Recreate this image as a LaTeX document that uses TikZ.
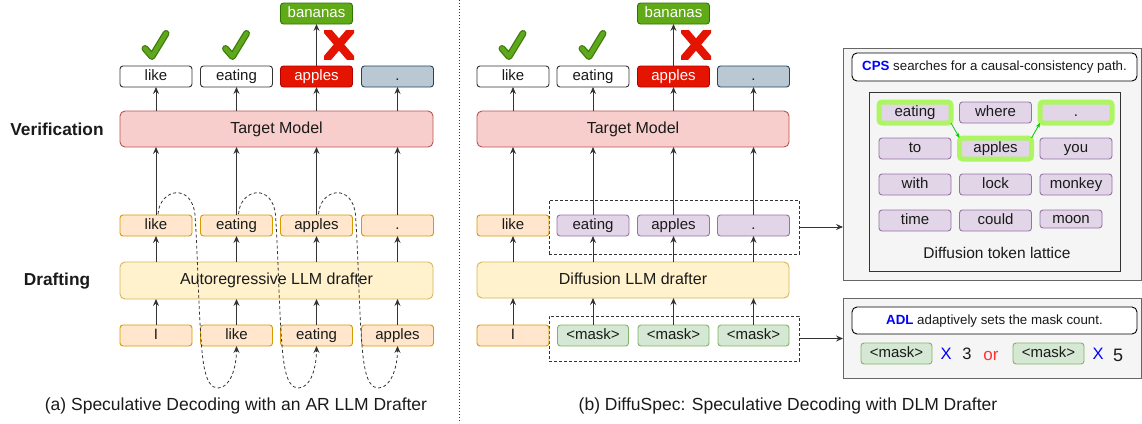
\documentclass[tikz,border=0pt]{standalone}
\usepackage{fontspec}
\setmainfont{Liberation Sans}
\usetikzlibrary{arrows.meta,calc}
\definecolor{txt}{HTML}{1A1A1A}
\definecolor{linec}{HTML}{333333}
\definecolor{boxgray}{HTML}{333333}
\definecolor{redF}{HTML}{E51400}\definecolor{redD}{HTML}{B20000}
\definecolor{dotF}{HTML}{BAC8D3}\definecolor{dotD}{HTML}{23445D}
\definecolor{grnF}{HTML}{60A917}\definecolor{grnD}{HTML}{2D7600}
\definecolor{tgtF}{HTML}{F8CECC}\definecolor{tgtD}{HTML}{B85450}
\definecolor{orF}{HTML}{FFE6CC}\definecolor{orD}{HTML}{D79B00}
\definecolor{drF}{HTML}{FFF2CC}\definecolor{drD}{HTML}{D6B656}
\definecolor{puF}{HTML}{E1D5E7}\definecolor{puD}{HTML}{9673A6}
\definecolor{mkF}{HTML}{D5E8D4}\definecolor{mkD}{HTML}{82B366}
\definecolor{panF}{HTML}{F5F5F5}\definecolor{panD}{HTML}{666666}
\definecolor{hlg}{HTML}{ADF562}
\definecolor{garrc}{HTML}{00CC00}
\definecolor{chkF}{HTML}{5FA81C}\definecolor{chkD}{HTML}{3E7A0C}
\definecolor{orred}{HTML}{FF3333}
\begin{document}
\begin{tikzpicture}[x=1pt,y=-1pt,
  every node/.style={inner sep=0pt, outer sep=0pt, text=txt},
  tok/.style={draw=boxgray, fill=white, rounded corners=3pt, line width=0.9pt,
    minimum width=72pt, minimum height=21pt, text height=11pt, text depth=3pt,
    font=\fontsize{15}{15}\selectfont},
  tokred/.style={tok, fill=redF, draw=redD, text=white},
  tokdot/.style={tok, fill=dotF, draw=dotD},
  tokgrn/.style={tok, fill=grnF, draw=grnD, text=white},
  tokor/.style={tok, fill=orF, draw=orD},
  tokpu/.style={tok, fill=puF, draw=puD},
  tokmk/.style={tok, fill=mkF, draw=mkD, minimum width=71pt},
  hl/.style={tokpu, draw=hlg, line width=5pt},
  bigbox/.style={rounded corners=5pt, line width=0.9pt, minimum height=36pt,
    text height=11.5pt, text depth=3.5pt, font=\fontsize{16}{16}\selectfont},
  tgt/.style={bigbox, fill=tgtF, draw=tgtD},
  drafter/.style={bigbox, fill=drF, draw=drD},
  dbox/.style={draw=linec, dash pattern=on 3pt off 2pt, line width=0.8pt},
  arr/.style={-{Stealth[length=7pt,width=6pt,inset=2.5pt]}, line width=0.9pt, draw=linec},
  loopline/.style={-{Stealth[length=7pt,width=6pt,inset=2.5pt]}, line width=0.8pt, draw=linec, dash pattern=on 3pt off 2.5pt},
  garr/.style={-{Stealth[length=5pt,width=4pt]}, line width=0.8pt, draw=garrc},
  panel/.style={fill=panF, draw=panD, line width=1pt},
  infobox/.style={draw=black, fill=white, rounded corners=5pt, line width=0.9pt,
    minimum width=285pt, font=\fontsize{13.3}{13.3}\selectfont, text height=10pt, text depth=3pt},
  lbl/.style={font=\fontsize{17.3}{17.3}\selectfont\bfseries},
  captxt/.style={font=\fontsize{17.5}{17.5}\selectfont},
  xline/.style={draw=redF, line width=8pt},
  chkout/.style={draw=chkD, line width=7pt, line cap=round, line join=round},
  chkin/.style={draw=chkF, line width=4.5pt, line cap=round, line join=round},
]
\useasboundingbox (0,0) rectangle (1142,423);

% divider
\draw[linec, line width=1pt, dash pattern=on 1pt off 2pt] (459,0) -- (459,423);

% ================= left panel =================
\node[lbl] (verif) at (57,129) {Verification};
\node[lbl] (draft) at (57,281) {Drafting};

\node[tok]    (tA1) at (156,76.5)   {like};
\node[tok]    (tA2) at (236.5,76.5) {eating};
\node[tokred] (tA3) at (316.5,76.5) {apples};
\node[tokdot] (tA4) at (397.5,76.5) {.};
\node[tokgrn] (bA)  at (316.5,13.5) {bananas};
\node[tgt, minimum width=313pt] (tgtA) at (276.5,129) {Target Model};

\node[tokor] (dA1) at (156,225.5)   {like};
\node[tokor] (dA2) at (236.5,225.5) {eating};
\node[tokor] (dA3) at (316.5,225.5) {apples};
\node[tokor] (dA4) at (397.5,225.5) {.};
\node[drafter, minimum width=313pt, minimum height=37pt] (arA) at (276.5,280.5) {Autoregressive LLM drafter};

\node[tokor] (iA1) at (156,335.5)   {I};
\node[tokor] (iA2) at (236.5,335.5) {like};
\node[tokor] (iA3) at (316.5,335.5) {eating};
\node[tokor] (iA4) at (397.5,335.5) {apples};

\foreach \i in {1,2,3,4}{
  \draw[arr] (tA\i |- tgtA.north) -- (tA\i.south);
  \draw[arr] (dA\i.north) -- (dA\i |- tgtA.south);
  \draw[arr] (dA\i |- arA.north) -- (dA\i.south);
  \draw[arr] (iA\i.north) -- (iA\i |- arA.south);
}
\draw[arr] (tA3.north) -- (bA.south);

% dashed autoregressive loops
\foreach \a/\b in {dA1/iA2, dA2/iA3, dA3/iA4}{
  \draw[loopline] ($(\a.north)+(2,-1)$)
     .. controls ($(\a.north)+(4,-27)$) and ($(\a.north)+(36,-32)$) .. ($(\a.north)+(39,0)$)
     .. controls ($(\a.north)+(42,45)$) and ($(\a.north)+(43,115)$) .. ($(\a.north)+(47,145)$)
     .. controls ($(\a.north)+(50,168)$) and ($(\a.north)+(56,173)$) .. ($(\a.north)+(62,173)$)
     .. controls ($(\a.north)+(74,173)$) and ($(\b.south)+(0,22)$) .. (\b.south);
}

% checks and crosses
\foreach \c in {156,236.5,513,593}{
  \draw[chkout] ({\c-11},48.5) -- ({\c-4},56.5) -- ({\c+10},33.5);
  \draw[chkin]  ({\c-11},48.5) -- ({\c-4},56.5) -- ({\c+10},33.5);
}
\foreach \c in {339,696}{
  \begin{scope}
    \clip ({\c-15},30) rectangle ({\c+15},59);
    \draw[xline] ({\c-15},27) -- ({\c+15},62);
    \draw[xline] ({\c+15},27) -- ({\c-15},62);
  \end{scope}
}

\node[captxt] (capA) at (236,406) {(a) Speculative Decoding with an AR LLM Drafter};

% ================= right panel =================
\node[dbox, minimum width=250pt, minimum height=54pt] (boxB1) at (674,227) {};
\node[dbox, minimum width=250pt, minimum height=45pt] (boxB2) at (674,338.5) {};

\node[tok]    (tB1) at (513,76.5)   {like};
\node[tok]    (tB2) at (593,76.5)   {eating};
\node[tokred] (tB3) at (673.5,76.5) {apples};
\node[tokdot] (tB4) at (753.5,76.5) {.};
\node[tokgrn] (bB)  at (673.5,13.5) {bananas};
\node[tgt, minimum width=312pt] (tgtB) at (633,129) {Target Model};

\node[tokor] (dB1) at (513,225.5)   {like};
\node[tokpu] (dB2) at (593,225.5)   {eating};
\node[tokpu] (dB3) at (673.5,225.5) {apples};
\node[tokpu] (dB4) at (753.5,225.5) {.};
\node[drafter, minimum width=312pt] (dfB) at (633,280) {Diffusion LLM drafter};

\node[tokor] (iB1) at (513,335.5)   {I};
\node[tokmk] (iB2) at (593,335.5)   {<mask>};
\node[tokmk] (iB3) at (673.5,335.5) {<mask>};
\node[tokmk] (iB4) at (753.5,335.5) {<mask>};

\foreach \i in {1,2,3,4}{
  \draw[arr] (tB\i |- tgtB.north) -- (tB\i.south);
  \draw[arr] (dB\i.north) -- (dB\i |- tgtB.south);
  \draw[arr] (dB\i |- dfB.north) -- (dB\i.south);
  \draw[arr] (iB\i.north) -- (iB\i |- dfB.south);
}
\draw[arr] (tB3.north) -- (bB.south);

\node[captxt] (capB) at (788,406) {(b) DiffuSpec: Speculative Decoding with DLM Drafter};

% ================= side panels =================
\node[panel, minimum width=298pt, minimum height=232pt] (pan1) at (992,164) {};
\node[panel, minimum width=298pt, minimum height=80pt]  (pan2) at (992,338) {};
\draw[arr] (boxB1.east) -- (boxB1.east -| pan1.west);
\draw[arr] (boxB2.east) -- (boxB2.east -| pan2.west);

\node[infobox, minimum height=28pt] (cps) at (994.5,67) {\textcolor{blue}{\textbf{CPS}} searches for a causal-consistency path.};
\node[draw=boxgray, line width=0.9pt, minimum width=251pt, minimum height=179pt] (latt) at (994.5,181.5) {};

\node[hl]    (L11) at (915,112.5)    {eating};
\node[tokpu] (L12) at (995.5,112.5)  {where};
\node[hl]    (L13) at (1076,112.5)   {.};
\node[tokpu] (L21) at (915,148.5)    {to};
\node[hl]    (L22) at (995.5,148.5)  {apples};
\node[tokpu] (L23) at (1076,148.5)   {you};
\node[tokpu] (L31) at (915,184.5)    {with};
\node[tokpu] (L32) at (995.5,184.5)  {lock};
\node[tokpu] (L33) at (1076,184.5)   {monkey};
\node[tokpu] (L41) at (915,220.5)    {time};
\node[tokpu] (L42) at (995.5,220.5)  {could};
\node[tokpu, minimum width=62pt, minimum height=18pt] (L43) at (1071,219) {moon};
\draw[garr] (L11.south east) -- (L22.north west);
\draw[garr] (L22.north east) -- (L13.south west);
\node[font=\fontsize{15.5}{15.5}\selectfont] (lattlbl) at (997,253) {Diffusion token lattice};

\node[infobox, minimum height=27pt] (adl) at (994.5,320.5) {\textcolor{blue}{\textbf{ADL}} adaptively sets the mask count.};
\node[tokmk] (m3) at (896.5,353.5)  {<mask>};
\node[tokmk] (m5) at (1048.5,353.5) {<mask>};
\node[font=\fontsize{16.5}{16.5}\selectfont, text=blue] (x3) at (946,354) {X};
\node[font=\fontsize{16.5}{16.5}\selectfont] (n3) at (967,354) {3};
\node[font=\fontsize{17}{17}\selectfont, text=orred] (orw) at (991,356) {or};
\node[font=\fontsize{16.5}{16.5}\selectfont, text=blue] (x5) at (1098,354) {X};
\node[font=\fontsize{18}{18}\selectfont] (n5) at (1118,355) {5};
\end{tikzpicture}
\end{document}
